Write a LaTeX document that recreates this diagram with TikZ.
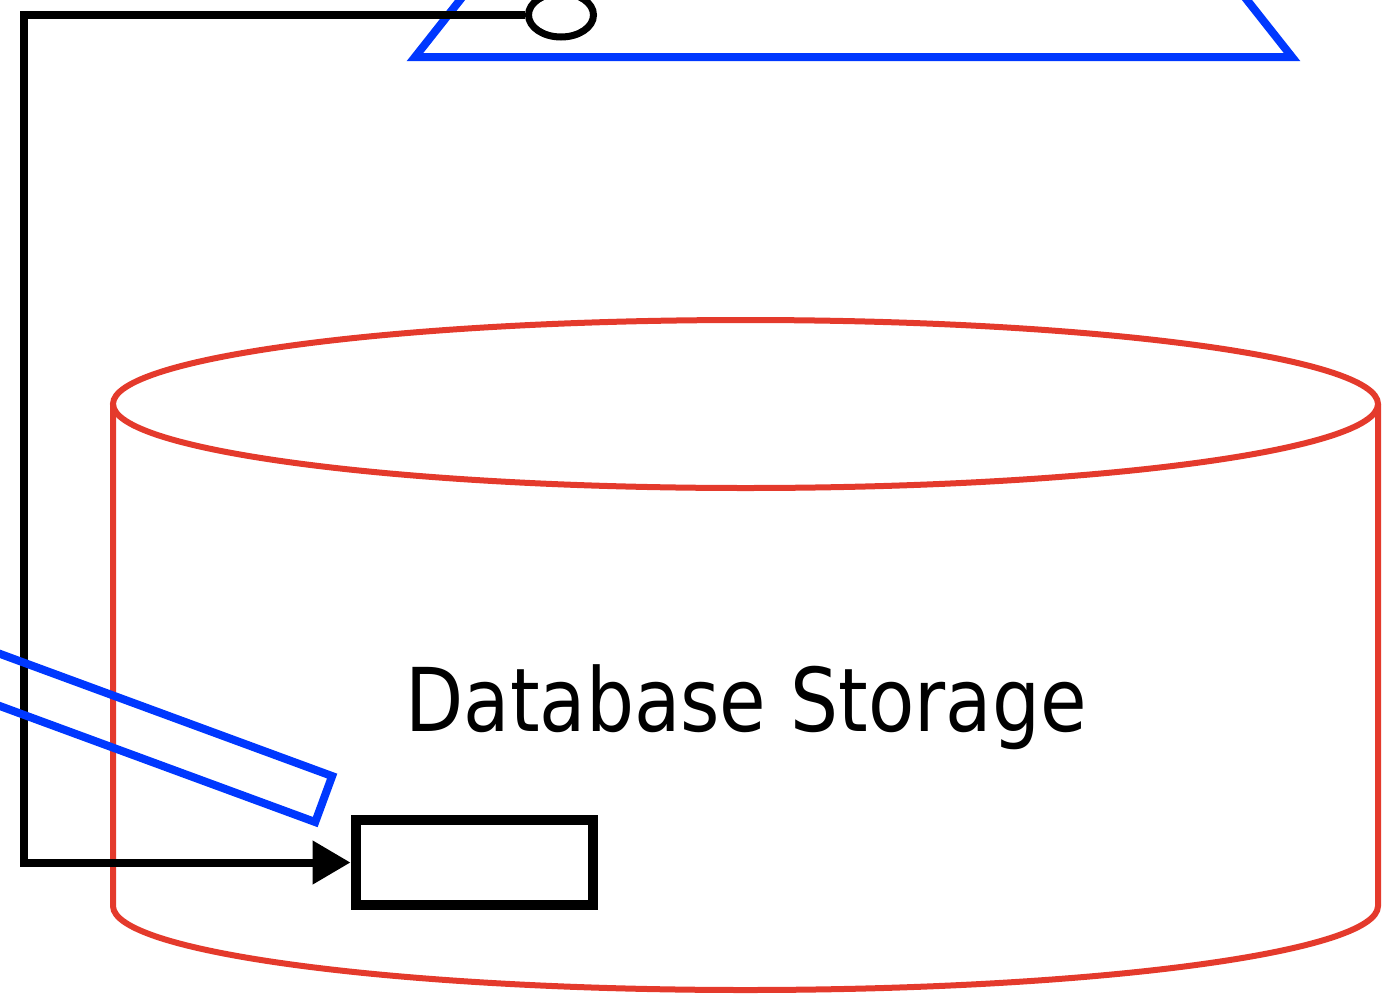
\documentclass[tikz,border=0pt]{standalone}
\usepackage{fontspec}
\setmainfont{DejaVu Sans}[FakeStretch=0.86]
\usetikzlibrary{arrows.meta,shapes.geometric}

\definecolor{dbred}{RGB}{228,58,44}
\definecolor{linkblue}{RGB}{0,56,255}

\tikzset{
  dbwall/.style={draw=dbred, line width=6pt},
  blueshape/.style={draw=linkblue, line width=8pt, line join=miter},
  wire/.style={draw=black, line width=8pt},
  portmark/.style={ellipse, draw=black, fill=white, line width=7pt,
    minimum width=65pt, minimum height=44pt, inner sep=0pt},
  slot/.style={rectangle, draw=black, fill=white, line width=10pt,
    minimum width=237pt, minimum height=85pt, inner sep=0pt},
  bar/.style={rectangle, blueshape, minimum width=400pt, minimum height=49pt,
    inner sep=0pt},
  dblabel/.style={font=\fontsize{88}{96}\selectfont, inner sep=0pt}
}

\begin{document}
\begin{tikzpicture}[x=1pt,y=-1pt]
  \useasboundingbox (0,0) rectangle (1394,996);

  % database cylinder
  \path[dbwall] (113,404) -- (113,906)
     arc[start angle=180, end angle=360, x radius=632.5pt, y radius=84pt]
     -- (1378,404);
  \path[dbwall] (745.5,404) ellipse[x radius=632.5pt, y radius=84pt];
  \node[dblabel] (db) at (746,707) {Database Storage};

  % triangle reaching in from above
  \path[blueshape] (415,57) -- (1292,57) -- (853.5,-498) -- cycle;

  % elbow connector from the port to the slot
  \node[portmark] (port) at (561,15) {};
  \node[slot] (slot) at (474,862.5) {};
  \coordinate (elbow) at (24,15);
  \draw[wire, -{Triangle[length=38pt,width=42pt]}]
    (port.west) -- (elbow) |- (slot.west);

  % tilted bar crossing the left side
  \node[bar, rotate=-20.2] (link) at (136,730) {};
\end{tikzpicture}
\end{document}
